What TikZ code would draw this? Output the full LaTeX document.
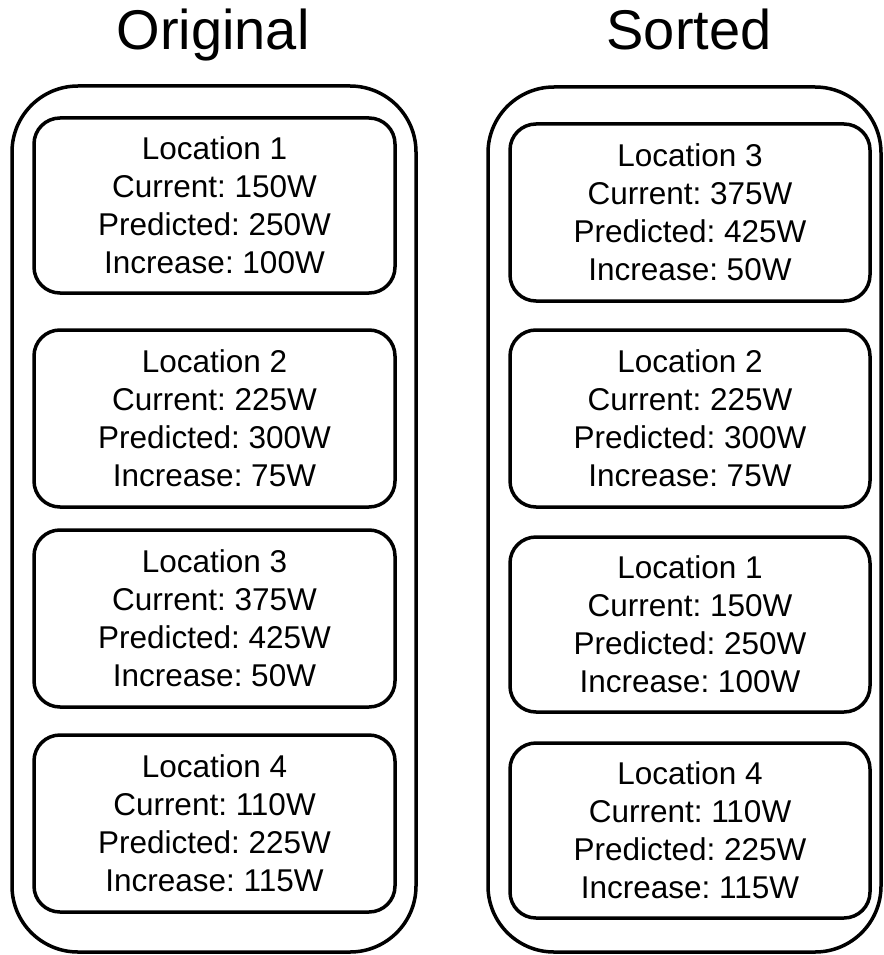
\documentclass[tikz,border=0pt]{standalone}
\usepackage{fontspec}
\setmainfont{Liberation Sans}
\frenchspacing
\begin{document}
\begin{tikzpicture}[x=1pt,y=-1pt,
  outerbox/.style={draw=black, line width=3.5pt, rounded corners=66pt, inner sep=0pt},
  locbox/.style={draw=black, line width=3.5pt, rounded corners=26pt, align=center, inner sep=0pt,
    font=\frenchspacing\fontsize{31.5}{38}\selectfont},
  title/.style={font=\fontsize{56}{60}\selectfont, anchor=base, inner sep=0pt}]
\useasboundingbox (0,0) rectangle (883,955);
% titles
\node[title] (torig) at (213,50) {Original};
\node[title] (tsort) at (689,50) {Sorted};
% outer containers
\node[outerbox, minimum width=404pt, minimum height=866pt] (oleft) at (214,519) {};
\node[outerbox, minimum width=393pt, minimum height=865pt] (oright) at (684.5,519.5) {};
% left column
\node[locbox, minimum width=361pt, minimum height=175pt] (l1) at (214.5,205.5) {Location 1\\Current: 150W\\Predicted: 250W\\Increase: 100W};
\node[locbox, minimum width=361pt, minimum height=177pt] (l2) at (214.5,418.5) {Location 2\\Current: 225W\\Predicted: 300W\\Increase: 75W};
\node[locbox, minimum width=361pt, minimum height=177pt] (l3) at (214.5,618.5) {Location 3\\Current: 375W\\Predicted: 425W\\Increase: 50W};
\node[locbox, minimum width=361pt, minimum height=177pt] (l4) at (214.5,823.5) {Location 4\\Current: 110W\\Predicted: 225W\\Increase: 115W};
% right column
\node[locbox, minimum width=360pt, minimum height=177pt] (r1) at (690,212.5) {Location 3\\Current: 375W\\Predicted: 425W\\Increase: 50W};
\node[locbox, minimum width=360pt, minimum height=177pt] (r2) at (690,418.5) {Location 2\\Current: 225W\\Predicted: 300W\\Increase: 75W};
\node[locbox, minimum width=360pt, minimum height=175pt] (r3) at (690,624.5) {Location 1\\Current: 150W\\Predicted: 250W\\Increase: 100W};
\node[locbox, minimum width=360pt, minimum height=175pt] (r4) at (690,830.5) {Location 4\\Current: 110W\\Predicted: 225W\\Increase: 115W};
\end{tikzpicture}
\end{document}
